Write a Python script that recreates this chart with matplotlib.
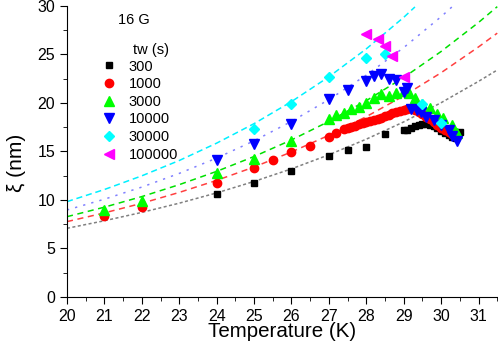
import matplotlib.pyplot as plt
from matplotlib.ticker import MultipleLocator

plt.rcParams['font.family'] = ['Liberation Sans', 'DejaVu Sans']

# measured xi (nm) vs temperature (K) for each waiting time
t300 = [24, 25, 26, 27, 27.5, 28, 28.5, 29.0, 29.1, 29.2, 29.3, 29.4, 29.5,
        29.6, 29.7, 29.8, 29.9, 30.0, 30.1, 30.2, 30.3, 30.4, 30.5]
x300 = [10.6, 11.8, 13.0, 14.5, 15.2, 15.5, 16.8, 17.2, 17.25, 17.4, 17.6, 17.7, 17.8,
        17.8, 17.75, 17.6, 17.4, 17.1, 16.9, 16.7, 16.5, 16.4, 17.0]

t1000 = [21, 22, 24, 25, 25.5, 26, 26.5, 27, 27.2, 27.4, 27.5, 27.6, 27.7, 27.8,
         27.9, 28.0, 28.1, 28.2, 28.3, 28.4, 28.5, 28.6, 28.7, 28.8, 28.9, 29.0,
         29.1, 29.2, 29.3, 29.4, 29.5, 29.6, 29.7, 29.8, 29.9, 30.0, 30.1, 30.2, 30.3]
x1000 = [8.35, 9.3, 11.8, 13.3, 14.1, 14.9, 15.6, 16.5, 16.9, 17.3, 17.4, 17.5, 17.65, 17.8,
         17.9, 18.0, 18.1, 18.2, 18.35, 18.5, 18.65, 18.8, 18.95, 19.1, 19.2, 19.3,
         19.4, 19.45, 19.3, 19.1, 18.9, 18.6, 18.3, 18.0, 17.7, 17.4, 17.2, 17.0, 16.8]

t3000 = [21, 22, 24, 25, 26, 27, 27.2, 27.4, 27.6, 27.8, 28.0, 28.2, 28.4, 28.6,
         28.8, 29.0, 29.15, 29.3, 29.5, 29.7, 29.9, 30.05, 30.3, 30.42]
x3000 = [9.0, 9.9, 12.75, 14.2, 16.1, 18.4, 18.8, 19.0, 19.35, 19.6, 20.0, 20.5, 20.9, 20.7,
         21.05, 21.25, 21.0, 20.5, 19.9, 19.45, 18.9, 18.5, 17.7, 16.9]

t10000 = [24, 25, 26, 27, 27.5, 28.0, 28.2, 28.4, 28.6, 28.8, 29.0, 29.08, 29.2,
          29.35, 29.45, 29.6, 29.8, 30.0, 30.2, 30.3, 30.42]
x10000 = [14.1, 15.8, 17.8, 20.4, 21.3, 22.3, 22.8, 23.0, 22.5, 22.4, 21.1, 21.5, 19.4,
          19.3, 19.1, 18.6, 18.2, 17.7, 17.2, 16.6, 16.1]

t30000 = [25, 26, 27, 28, 28.5, 29.5, 30.0]
x30000 = [17.3, 19.9, 22.65, 24.6, 25.1, 19.9, 17.9]

t100000 = [28.0, 28.3, 28.5, 28.7, 29.0]
x100000 = [27.1, 26.55, 25.9, 24.8, 22.7]

# fitted curves
fit_t = [20, 21, 22, 23, 24, 25, 26, 27, 28, 29, 30, 31, 31.5]
fit300 = [7.08, 7.86, 8.72, 9.67, 10.73, 11.91, 13.21, 14.66, 16.27, 18.05, 20.03, 22.23, 23.4]
fit1000 = [7.77, 8.67, 9.66, 10.78, 12.02, 13.40, 14.95, 16.67, 18.59, 20.73, 23.12, 25.78, 27.2]
fit3000 = [8.28, 9.26, 10.35, 11.58, 12.95, 14.48, 16.19, 18.10, 20.24, 22.63, 25.31, 28.30, 29.93]
fit_t10000 = [20, 21, 22, 23, 24, 25, 26, 27, 28, 29, 30, 30.3]
fit10000 = [8.97, 10.08, 11.33, 12.74, 14.32, 16.10, 18.10, 20.35, 22.87, 25.71, 28.90, 29.94]
fit_t30000 = [20, 21, 22, 23, 24, 25, 26, 27, 28, 29, 29.3]
fit30000 = [9.83, 11.08, 12.49, 14.07, 15.86, 17.87, 20.14, 22.70, 25.58, 28.83, 29.9]

fig = plt.figure(figsize=(4.98, 3.42), dpi=100)
ax = fig.add_axes([0.1345, 0.1316, 0.8655, 0.8509])

ax.plot(fit_t, fit300, color='#808080', lw=1.1, dashes=(2, 1.6))
ax.plot(fit_t, fit1000, color='#ff4040', lw=1.1, dashes=(4, 3))
ax.plot(fit_t, fit3000, color='#00e000', lw=1.1, dashes=(4, 3))
ax.plot(fit_t10000, fit10000, color='#8080ff', lw=1.1, dashes=(1.5, 4))
ax.plot(fit_t30000, fit30000, color='#00f0ff', lw=1.1, dashes=(4, 2.5))

ax.plot(t300, x300, 's', color='black', ms=5, ls='none', label='300')
ax.plot(t1000, x1000, 'o', color='red', ms=6, ls='none', label='1000')
ax.plot(t3000, x3000, '^', color='#00ff00', ms=6.5, ls='none', label='3000')
ax.plot(t10000, x10000, 'v', color='blue', ms=6.5, ls='none', label='10000')
ax.plot(t30000, x30000, 'D', color='cyan', ms=5.5, ls='none', label='30000')
ax.plot(t100000, x100000, '<', color='magenta', ms=6.5, ls='none', label='100000')

ax.set_xlim(20, 31.52)
ax.set_ylim(0, 30)
ax.xaxis.set_major_locator(MultipleLocator(1))
ax.xaxis.set_minor_locator(MultipleLocator(0.5))
ax.yaxis.set_major_locator(MultipleLocator(5))
ax.yaxis.set_minor_locator(MultipleLocator(2.5))
ax.tick_params(which='major', length=5, labelsize=11.5, direction='out')
ax.tick_params(which='minor', length=3, direction='out')
ax.spines['top'].set_visible(False)
ax.spines['right'].set_visible(False)

ax.set_xlabel('Temperature (K)', fontsize=14.8, labelpad=-1)
ax.set_ylabel('ξ (nm)', fontsize=15, labelpad=4)
ax.yaxis.set_label_coords(-0.095, 0.46)

ax.text(0.118, 0.952, '16 G', transform=ax.transAxes, fontsize=10.5,
        va='center', ha='left')
ax.text(0.153, 0.849, 'tw (s)', transform=ax.transAxes, fontsize=10.5,
        va='center', ha='left')
ax.legend(loc='upper left', bbox_to_anchor=(0.053, 0.851),
          frameon=False, fontsize=10.5, handletextpad=0.75,
          labelspacing=0.25, borderpad=0.2, handlelength=1.2)

fig.savefig('out.png', dpi=100)
